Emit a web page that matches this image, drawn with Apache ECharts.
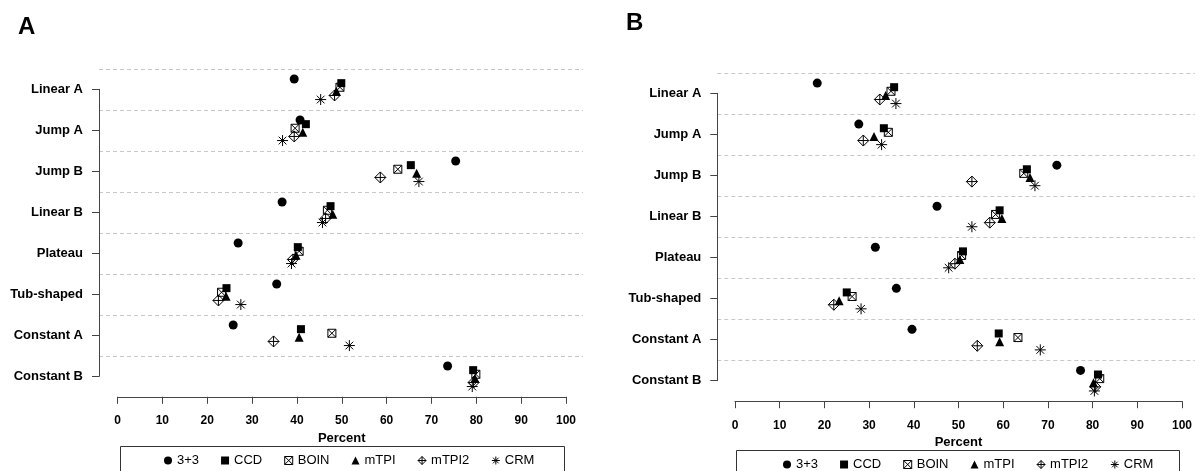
<!DOCTYPE html>
<html>
<head>
<meta charset="utf-8">
<script src="https://cdn.jsdelivr.net/npm/echarts@6/dist/echarts.min.js"></script>
<style>
  html, body { margin: 0; padding: 0; background: #fff; }
  #chart { width: 1195px; height: 471px; }
</style>
</head>
<body>
<div id="chart"></div>
<script>
  // categories (top to bottom) and methods
  const categories = ['Linear A', 'Jump A', 'Jump B', 'Linear B', 'Plateau', 'Tub-shaped', 'Constant A', 'Constant B'];
  const methods = ['3+3', 'CCD', 'BOIN', 'mTPI', 'mTPI2', 'CRM'];

  // panel A, percent per category
  const a33    = [39.4, 40.7, 75.4, 36.7, 26.9, 35.5, 25.8, 73.6];
  const aCCD   = [49.9, 42.0, 65.4, 47.5, 40.2, 24.3, 40.9, 79.3];
  const aBOIN  = [49.6, 39.6, 62.5, 46.8, 40.5, 23.2, 47.8, 79.9];
  const aMTPI  = [48.8, 41.3, 66.7, 48.0, 39.8, 24.2, 40.5, 79.7];
  const aMTPI2 = [48.4, 39.4, 58.6, 46.4, 39.1, 22.5, 34.8, 79.4];
  const aCRM   = [45.3, 36.8, 67.2, 45.7, 38.8, 27.5, 51.7, 79.1];

  // panel B
  const b33    = [18.4, 27.7, 72.0, 45.2, 31.4, 36.1, 39.6, 77.3];
  const bCCD   = [35.6, 33.3, 65.3, 59.2, 51.0, 25.0, 59.0, 81.2];
  const bBOIN  = [34.9, 34.3, 64.6, 58.3, 50.7, 26.2, 63.3, 81.6];
  const bMTPI  = [33.7, 31.1, 66.0, 59.7, 50.3, 23.3, 59.2, 80.2];
  const bMTPI2 = [32.4, 28.7, 53.0, 57.0, 49.2, 22.1, 54.2, 80.6];
  const bCRM   = [36.0, 32.8, 67.1, 53.0, 47.8, 28.2, 68.3, 80.4];

  const panelA = [a33, aCCD, aBOIN, aMTPI, aMTPI2, aCRM];
  const panelB = [b33, bCCD, bBOIN, bMTPI, bMTPI2, bCRM];

  const FONT = '"Liberation Sans", Arial, sans-serif';
  const INK = '#000';

  // marker per method
  const marks = [
    { symbol: 'circle', size: 9, filled: true },
    { symbol: 'rect', size: 8, filled: true },
    { symbol: 'path://M0,0L10,0L10,10L0,10ZM0,0L10,10M10,0L0,10', size: 8, filled: false },
    { symbol: 'triangle', size: 9, filled: true },
    { symbol: 'path://M5,0L10,5L5,10L0,5ZM5,0L5,10M0,5L10,5', size: 11, filled: false },
    { symbol: 'path://M5,0L5,10M0,5L10,5M1.5,1.5L8.5,8.5M8.5,1.5L1.5,8.5', size: 11, filled: false }
  ];

  function markStyle(m) {
    return m.filled
      ? { color: INK, opacity: 1 }
      : { color: 'rgba(0,0,0,0)', borderColor: INK, borderWidth: 1, opacity: 1 };
  }

  function buildSeries(values, xIdx, yIdx) {
    return values.map(function (arr, k) {
      let m = marks[k];
      let shift = (k - 2.5) * 0.1;
      return {
        name: methods[k],
        type: 'scatter',
        xAxisIndex: xIdx,
        yAxisIndex: yIdx,
        symbol: m.symbol,
        symbolSize: m.size,
        itemStyle: markStyle(m),
        emphasis: { disabled: true },
        data: arr.map(function (v, i) { return [v, i + shift]; })
      };
    });
  }

  function panelAxes(p) {
    // p: layout for one panel
    let grids = [
      { left: p.x0, top: p.top, width: p.x100 - p.x0, height: p.h },          // data
      { left: p.axisX, top: p.top, width: p.frameW, height: p.h },             // dashed frame
      { left: p.axisX, top: p.top + p.h / 16, width: 10, height: p.h * 7 / 8 } // category axis
    ];
    let xAxes = [
      {
        gridIndex: p.g, type: 'value', min: 0, max: 100, interval: 10, position: 'bottom',
        axisLine: { show: true, onZero: false, lineStyle: { color: '#444', width: 1 } },
        axisTick: { show: true, length: 7, lineStyle: { color: '#444' } },
        axisLabel: { margin: 18, color: INK, fontSize: 12, fontWeight: 'bold', fontFamily: FONT },
        splitLine: { show: false },
        name: 'Percent', nameLocation: 'middle', nameGap: 35,
        nameTextStyle: { color: INK, fontSize: 13, fontWeight: 'bold', fontFamily: FONT }
      },
      { gridIndex: p.g + 1, type: 'value', min: 0, max: 1, show: false },
      { gridIndex: p.g + 2, type: 'value', min: 0, max: 1, show: false }
    ];
    let yAxes = [
      { gridIndex: p.g, type: 'value', min: -0.5, max: 7.5, inverse: true, show: false },
      {
        gridIndex: p.g + 1, type: 'value', min: 0, max: 8, interval: 1, inverse: true,
        axisLine: { show: false }, axisTick: { show: false }, axisLabel: { show: false },
        splitLine: { show: true, showMaxLine: false, lineStyle: { color: '#c8c8c8', width: 1, type: [4, 3] } }
      },
      {
        gridIndex: p.g + 2, type: 'value', min: 0, max: 7, interval: 1, inverse: true,
        axisLine: { show: true, onZero: false, lineStyle: { color: '#444', width: 1 } },
        axisTick: { show: true, length: 7, lineStyle: { color: '#444' } },
        axisLabel: {
          margin: 16, color: INK, fontSize: 13, fontWeight: 'bold', fontFamily: FONT,
          formatter: function (v) { return categories[v]; }
        },
        splitLine: { show: false }
      }
    ];
    return { grids: grids, xAxes: xAxes, yAxes: yAxes };
  }

  let A = panelAxes({ g: 0, x0: 117.5, x100: 566, axisX: 99, frameW: 484, top: 68.8, h: 328 });
  let B = panelAxes({ g: 3, x0: 735, x100: 1182.3, axisX: 717.3, frameW: 478, top: 72.8, h: 328.4 });

  function legendFor(left, top) {
    return {
      data: methods.map(function (name, k) {
        return { name: name, icon: marks[k].symbol, itemStyle: markStyle(marks[k]) };
      }),
      left: left, top: top, orient: 'horizontal',
      itemWidth: 8, itemHeight: 8, itemGap: 22,
      selectedMode: false,
      textStyle: { color: INK, fontSize: 13, fontFamily: FONT }
    };
  }

  let option = {
    backgroundColor: '#fff',
    animation: false,
    title: [
      { text: 'A', left: 13, top: 10, textStyle: { fontSize: 24, fontWeight: 'bold', color: INK, fontFamily: FONT } },
      { text: 'B', left: 621, top: 6, textStyle: { fontSize: 24, fontWeight: 'bold', color: INK, fontFamily: FONT } }
    ],
    grid: A.grids.concat(B.grids),
    xAxis: A.xAxes.concat(B.xAxes),
    yAxis: A.yAxes.concat(B.yAxes),
    legend: [legendFor(159, 449), legendFor(778, 453)],
    graphic: [
      { type: 'rect', shape: { x: 120.5, y: 446.5, width: 444, height: 30 }, style: { fill: 'none', stroke: '#333', lineWidth: 1 } },
      { type: 'rect', shape: { x: 736.5, y: 450.5, width: 443, height: 30 }, style: { fill: 'none', stroke: '#333', lineWidth: 1 } }
    ],
    series: buildSeries(panelA, 0, 0).concat(buildSeries(panelB, 3, 3))
  };

  let myChart = echarts.init(document.getElementById('chart'));
  myChart.setOption(option);
</script>
</body>
</html>
